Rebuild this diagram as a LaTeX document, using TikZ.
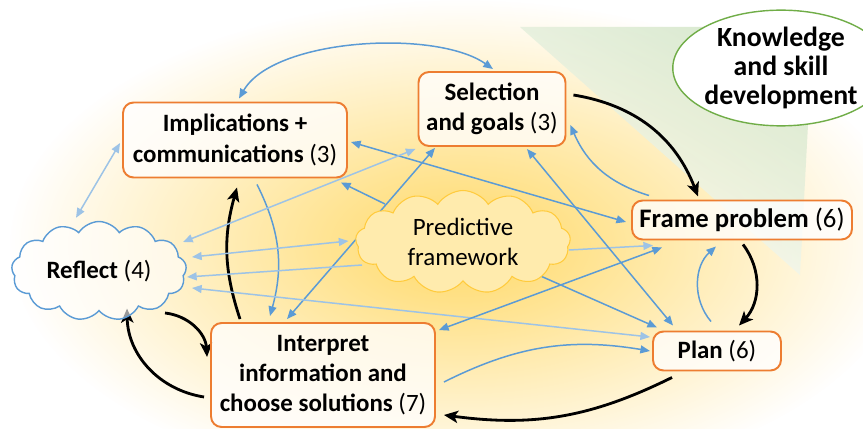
\documentclass[tikz,border=0pt]{standalone}
\usepackage{fontspec}
\setmainfont{Carlito}
\usetikzlibrary{shapes.symbols,shapes.geometric,arrows.meta,fadings}
\definecolor{boxorange}{HTML}{ED7D31}
\definecolor{linkblue}{HTML}{5B9BD5}
\definecolor{paleblue}{HTML}{9DC3E6}
\definecolor{leafgreen}{HTML}{70AD47}
\definecolor{glowyellow}{HTML}{FFD966}
\definecolor{cloudyellow}{HTML}{FFEBAD}
\definecolor{cloudgold}{HTML}{FFCB3D}
\definecolor{greenwash}{HTML}{CFE3C2}
\tikzfading[name=glowfade,inner color=transparent!0,outer color=transparent!100]
\pgfdeclarelayer{glow}
\pgfdeclarelayer{wires}
\pgfsetlayers{glow,wires,main}
\begin{document}
\begin{tikzpicture}[x=0.02cm,y=-0.02cm,font=\fontsize{14.2}{17.2}\selectfont,
  >={Triangle[length=5.5pt,width=4.5pt]},
  stage/.style={draw=boxorange,line width=1.1pt,rounded corners=6pt,fill=white,fill opacity=0.75,text opacity=1,align=center,inner sep=0pt},
  thought/.style={cloud,cloud puffs=13,cloud puff arc=115,cloud ignores aspect,align=center,inner sep=0pt},
  bigarrow/.style={-{Stealth[length=8pt,width=7pt,inset=2pt]},line width=1.6pt},
  link/.style={linkblue,line width=0.85pt},
  faint/.style={paleblue,line width=0.85pt}]
  \useasboundingbox (0,0) rectangle (863,429);
  \begin{pgfonlayer}{glow}
  \fill[white](0,0)rectangle(863,429);
  \fill[glowyellow,path fading=glowfade](460,245)ellipse[x radius=9cm,y radius=4.9cm];
  \shade[left color=white,right color=greenwash,shading angle=150,opacity=0.8](520,27)--(850,27)--(808,125)--(800,275)--cycle;
  \end{pgfonlayer}
  \node[stage,minimum width=4.48cm,minimum height=1.5cm](impl) at (235,140){\textbf{Implications +}\\\textbf{communications} (3)};
  \node[stage,minimum width=2.94cm,minimum height=1.48cm](sel) at (492,109){\textbf{Selection}\\\textbf{and goals} (3)};
  \node[stage,minimum width=4.4cm,minimum height=0.78cm,font=\fontsize{15.2}{18}\selectfont](frame) at (742,220){\textbf{Frame problem} (6)};
  \node[stage,minimum width=2.56cm,minimum height=0.78cm](plan) at (717,351){\textbf{Plan} (6)};
  \node[stage,minimum width=4.48cm,minimum height=2.08cm](interp) at (323,375){\textbf{Interpret}\\\textbf{information and}\\\textbf{choose solutions} (7)};
  \node[thought,draw=linkblue,line width=0.8pt,fill=white,fill opacity=0.6,text opacity=1,minimum width=3.5cm,minimum height=1.98cm](reflect) at (99,271){\textbf{Reflect} (4)};
  \node[thought,draw=cloudgold,fill=cloudyellow,line width=0.6pt,minimum width=4.3cm,minimum height=2.06cm](pred) at (463,242){Predictive\\framework};
  \node[ellipse,draw=leafgreen,line width=0.8pt,fill=white,align=center,inner sep=0pt,minimum width=3.5cm,minimum height=2.26cm,font=\fontsize{15.8}{16.5}\selectfont](know) at (781,68){\textbf{Knowledge}\\\textbf{and skill}\\\textbf{development}};
  \begin{pgfonlayer}{wires}
  \draw[bigarrow]([shift={(7,-14)}]sel.east) to[bend left=30] ([shift={(-44,-3)}]frame.north);
  \draw[bigarrow]([shift={(1,4)}]frame.south) to[bend left=40] ([shift={(22,-5)}]plan.north);
  \draw[bigarrow]([shift={(-45,6)}]plan.south) to[bend left=17] ([shift={(8,40)}]interp.east);
  \draw[bigarrow]([shift={(-6,22)}]interp.west) to[bend left=40] ([shift={(28,-3)}]reflect.south);
  \draw[bigarrow]([shift={(66,42)}]reflect.center) to[bend left=40] ([shift={(-3,-18)}]interp.west);
  \draw[bigarrow]([shift={(-83,-3)}]interp.north) to[bend left=17] ([shift={(2,9)}]impl.south);
  \draw[link,<->]([shift={(1,-2)}]sel.north) to[out=145,in=60,looseness=0.7] ([shift={(4,-3)}]impl.north);
  \draw[link,->]([shift={(22,6)}]impl.south) to[bend left=21] ([shift={(-53,-6)}]interp.north);
  \draw[link,->]([shift={(-78,-38)}]pred.center)--([shift={(-7,4)}]impl.south east);
  \draw[link,<->]([shift={(3,2)}]impl.east)--([shift={(-5,2)}]frame.west);
  \draw[faint,<->]([shift={(-23,-3)}]reflect.north)--([shift={(-2,3)}]impl.west);
  \draw[faint,<->]([shift={(84,-29)}]reflect.center)--([shift={(-2,2)}]sel.south west);
  \draw[link,<->]([shift={(-36,-3)}]interp.north)--([shift={(-57,1)}]sel.south);
  \draw[faint,<->]([shift={(93,-14)}]reflect.center)--([shift={(-7,-1)}]pred.west);
  \draw[faint,->]([shift={(-101,23)}]pred.center)--([shift={(88,6)}]reflect.center);
  \draw[faint,<->]([shift={(93,17)}]reflect.center)--([shift={(-2,-14)}]plan.west);
  \draw[faint,->]([shift={(106,8)}]pred.center)--([shift={(22,5)}]frame.south west);
  \draw[link,<->]([shift={(3,8)}]interp.north east)--([shift={(31,7)}]frame.south west);
  \draw[link,->]([shift={(73,32)}]pred.center)--([shift={(5,-3)}]plan.north west);
  \draw[link,<->]([shift={(35,2)}]sel.south)--([shift={(21,-5)}]plan.north west);
  \draw[link,->]([shift={(18,-4)}]frame.north west) to[bend left=25] ([shift={(4,16)}]sel.east);
  \draw[link,->]([shift={(-6,-9)}]plan.north) to[bend left=44] ([shift={(-26,6)}]frame.south);
  \draw[link,->]([shift={(8,7)}]interp.east) to[bend left=18] ([shift={(-2,0)}]plan.west);
  \end{pgfonlayer}
\end{tikzpicture}
\end{document}
